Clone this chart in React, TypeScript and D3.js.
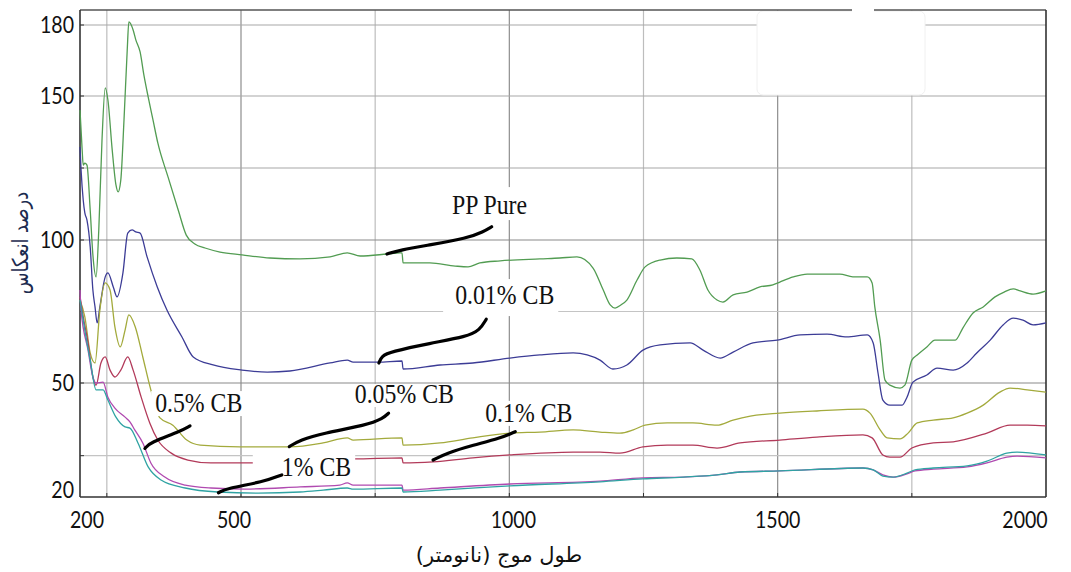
import React, { useEffect, useRef } from "react";
import * as d3 from "d3";

type Pt = [number, number];

// wavelength (nm), reflectance (%)
const ppPure: Pt[] = [
  [200,145.1],[204,131.3],[206,126.0],[209,126.7],[213,126.0],[219,110.4],[224,94.8],[230,87.1],[235,103.5],[241,134.7],
  [247,153.4],[252,148.6],[260,131.3],[267,119.1],[271,116.7],[276,120.8],[282,141.7],[288,169.4],[291,181.3],[299,177.9],
  [304,173.7],[312,168.6],[319,158.9],[327,149.7],[336,141.7],[345,133.7],[364,121.9],[383,110.4],[398,101.7],[414,98.6],
  [433,97.2],[461,95.8],[502,94.8],[554,93.7],[610,93.4],[666,94.1],[698,95.5],[722,94.4],[772,95.1],[796,95.5],
  [800,95.5],[802,92.0],[852,92.0],[899,90.9],[923,90.6],[945,92.0],[983,92.7],[1057,93.4],[1094,93.7],[1126,94.1],
  [1156,90.2],[1175,82.5],[1188,77.3],[1197,76.2],[1208,77.3],[1219,79.0],[1238,86.0],[1253,90.6],[1281,93.0],[1312,93.7],
  [1340,93.4],[1355,89.5],[1370,82.5],[1387,79.0],[1398,78.3],[1417,80.8],[1443,81.8],[1467,83.6],[1491,84.3],[1504,85.3],
  [1529,87.1],[1555,88.1],[1592,88.1],[1616,88.1],[1640,87.1],[1667,87.1],[1676,85.0],[1681,76.6],[1691,65.0],[1700,51.0],
  [1709,49.4],[1728,48.6],[1737,49.4],[1750,58.0],[1760,59.8],[1778,62.6],[1793,65.0],[1831,65.0],[1845,69.2],[1864,74.5],
  [1883,76.6],[1905,80.1],[1922,81.8],[1939,82.9],[1952,82.2],[1976,81.1],[2000,82.2]
];

const cb001: Pt[] = [
  [200,132.3],[202,124.3],[206,113.9],[209,109.4],[213,106.9],[219,97.6],[224,82.5],[228,76.6],[232,71.0],[237,76.6],
  [247,87.1],[252,88.5],[262,83.6],[269,80.1],[280,88.5],[289,102.4],[297,103.5],[304,102.8],[312,102.4],[325,94.1],
  [344,83.6],[362,75.5],[390,66.1],[411,59.1],[448,56.3],[502,54.5],[549,53.8],[591,54.2],[666,57.0],[698,58.0],
  [709,57.3],[755,57.3],[800,57.7],[802,54.9],[871,56.3],[932,57.0],[1001,58.7],[1057,59.8],[1119,60.5],[1145,59.8],
  [1169,58.0],[1193,54.9],[1219,56.3],[1249,61.5],[1281,63.3],[1337,64.0],[1361,61.5],[1393,58.7],[1417,60.8],[1454,64.0],
  [1499,65.0],[1542,66.8],[1592,67.1],[1629,66.1],[1667,66.8],[1678,64.0],[1687,53.5],[1696,45.3],[1709,43.9],[1732,43.9],
  [1741,46.1],[1752,50.3],[1778,52.8],[1797,55.2],[1827,54.5],[1853,57.0],[1871,60.5],[1896,65.0],[1920,70.3],[1939,72.7],
  [1957,72.0],[1976,70.3],[2000,71.0]
];

const cb005: Pt[] = [
  [200,79.0],[209,73.1],[219,60.5],[228,57.0],[237,75.5],[247,85.0],[256,82.5],[265,69.6],[275,62.6],[284,68.5],
  [291,73.8],[303,69.6],[317,59.1],[332,48.1],[349,40.4],[373,38.4],[399,34.3],[424,32.9],[498,32.4],[591,32.4],
  [653,33.5],[698,34.9],[709,34.3],[800,34.9],[802,32.9],[871,33.5],[932,34.9],[1001,36.2],[1057,36.5],[1119,37.1],
  [1169,36.5],[1206,36.2],[1231,37.1],[1253,38.4],[1294,39.0],[1342,39.0],[1387,38.4],[1417,39.8],[1449,40.9],[1504,41.7],
  [1573,42.3],[1659,42.8],[1672,41.7],[1691,37.1],[1704,34.9],[1728,34.6],[1743,36.2],[1760,39.0],[1790,39.8],[1827,40.4],
  [1853,41.7],[1883,43.9],[1914,47.5],[1933,48.6],[1965,48.1],[2000,47.5]
];

const cb01: Pt[] = [
  [200,80.1],[206,73.1],[215,64.0],[224,52.1],[230,49.4],[239,57.0],[247,59.1],[256,54.5],[265,52.1],[276,54.5],
  [289,59.1],[299,54.5],[314,46.1],[330,39.0],[345,34.3],[370,30.7],[401,28.8],[444,28.0],[517,28.0],[610,28.3],
  [698,29.6],[709,29.1],[800,29.4],[802,28.0],[858,28.3],[932,29.4],[1001,30.2],[1119,31.0],[1169,31.0],[1206,30.7],
  [1249,32.4],[1294,32.9],[1342,32.9],[1387,32.1],[1430,33.5],[1504,34.3],[1573,35.1],[1659,35.7],[1676,34.9],[1696,30.2],
  [1709,29.6],[1728,29.6],[1750,32.1],[1790,33.5],[1827,33.8],[1890,36.2],[1933,38.4],[1965,38.4],[2000,38.2]
];

const cb05: Pt[] = [
  [200,82.5],[202,75.5],[215,61.5],[224,52.1],[230,50.0],[243,50.3],[252,46.1],[265,43.1],[284,40.6],[293,39.3],
  [302,37.1],[317,33.5],[332,28.0],[358,24.1],[396,21.9],[444,21.1],[507,20.8],[610,21.4],[684,21.9],[698,22.5],
  [709,21.9],[800,21.9],[802,20.5],[871,21.1],[1001,22.2],[1169,23.0],[1249,23.9],[1324,24.1],[1387,24.7],[1430,25.5],
  [1504,25.8],[1659,26.6],[1678,26.1],[1696,24.7],[1715,24.1],[1741,25.0],[1756,25.8],[1790,26.3],[1853,26.9],[1890,28.0],
  [1927,29.6],[1946,29.9],[2000,29.4]
];

const cb1: Pt[] = [
  [200,79.0],[209,68.5],[219,58.0],[230,48.1],[243,48.1],[252,45.3],[267,40.6],[284,37.9],[293,37.6],[308,33.5],
  [327,26.9],[351,23.3],[396,21.1],[457,20.0],[532,19.7],[610,20.0],[653,20.5],[698,21.1],[709,20.8],[800,21.1],
  [802,20.0],[871,20.5],[1001,21.7],[1169,22.8],[1249,23.6],[1324,24.1],[1387,24.7],[1430,25.5],[1504,25.8],[1659,26.6],
  [1678,26.1],[1696,24.4],[1715,24.1],[1741,25.2],[1756,26.1],[1790,26.6],[1853,27.2],[1890,28.5],[1927,30.7],[1946,31.0],
  [2000,30.2]
];

const seriesData: Pt[][] = [ppPure, cb001, cb005, cb01, cb05, cb1];
const seriesColors = ["#529c52", "#3c3c96", "#a3aa3c", "#b23a5a", "#b04ab0", "#2fa3a3"];

const yTickValues = [180, 150, 100, 50, 20];
const yGridValues = [180, 150, 125, 100, 75, 50, 30];
const xTickValues = [200, 500, 1000, 1500, 2000];
const xGridValues = [250, 500, 750, 1000, 1250, 1500, 1750];

const labelTexts = ["PP Pure", "0.01% CB", "0.05% CB", "0.1% CB", "1% CB", "0.5% CB"];
const labelNm = [893, 899, 712, 955, 576, 340];
const labelVal = [109.0, 77.6, 44.5, 39.3, 24.4, 42.0];

const leaderPP: Pt[] = [[772,95.1],[796,96.5],[852,98.3],[921,100.6],[952,102.9],[967,104.6]];
const leader001: Pt[] = [[757,57.0],[762,59.4],[778,60.9],[852,63.9],[921,66.2],[945,68.5],[957,72.3]];
const leader005: Pt[] = [[590,32.5],[610,34.3],[653,36.2],[734,38.4],[765,40.3],[775,41.7]];
const leader01: Pt[] = [[858,28.8],[883,30.7],[933,32.9],[983,34.8],[1011,36.6]];
const leader1: Pt[] = [[458,19.8],[473,21.0],[542,22.8],[576,24.7]];
const leader05: Pt[] = [[321,32.0],[330,33.6],[386,36.6],[405,38.2]];
const leaders: Pt[][] = [leaderPP, leader001, leader005, leader01, leader1, leader05];

const yTitle = "درصد انعکاس";
const xTitle = "طول موج (نانومتر)";

export default function App() {
  const ref = useRef<SVGSVGElement>(null);

  useEffect(() => {
    document.body.style.margin = "0";
    const W = 1071, H = 572;
    const L = 80, R = 1046, T = 10, B = 497;
    const svg = d3.select(ref.current!);
    svg.selectAll("*").remove();

    const x = d3.scaleLinear().domain([200, 2000]).range([L, R]);
    const y = d3.scaleLinear().domain([20, 50, 100, 150, 180]).range([492, 383, 240, 96, 25]);

    svg.append("rect").attr("width", W).attr("height", H).attr("fill", "#fff");

    // grid
    const grid = svg.append("g");
    xGridValues.forEach((v) => {
      grid.append("line")
        .attr("x1", x(v)).attr("x2", x(v)).attr("y1", T).attr("y2", B)
        .attr("stroke", xTickValues.includes(v) ? "#8e8e8e" : "#bdbdbd").attr("stroke-width", 1.2);
    });
    yGridValues.forEach((v) => {
      grid.append("line")
        .attr("y1", y(v)).attr("y2", y(v)).attr("x1", L).attr("x2", R)
        .attr("stroke", v === 100 || v === 50 ? "#8a8a8a" : v === 75 || v === 30 ? "#c4c4c4" : "#a8a8a8")
        .attr("stroke-width", 1.2);
    });

    // erased legend box
    svg.append("rect").attr("x", 757).attr("y", 11).attr("width", 168).attr("height", 84)
      .attr("rx", 6).attr("fill", "#fff").attr("stroke", "#f0f0f0");

    // frame
    svg.append("line").attr("x1", L).attr("x2", R).attr("y1", T).attr("y2", T).attr("stroke", "#555").attr("stroke-width", 1.4);
    svg.append("line").attr("x1", R).attr("x2", R).attr("y1", T).attr("y2", B).attr("stroke", "#333").attr("stroke-width", 1.6);
    svg.append("line").attr("x1", L).attr("x2", L).attr("y1", T).attr("y2", B).attr("stroke", "#333").attr("stroke-width", 1.6);
    svg.append("line").attr("x1", L).attr("x2", R).attr("y1", B).attr("y2", B).attr("stroke", "#333").attr("stroke-width", 1.6);
    svg.append("rect").attr("x", 852).attr("y", 7).attr("width", 22).attr("height", 6).attr("fill", "#fff");

    // ticks
    yGridValues.forEach((v) => {
      svg.append("line").attr("x1", L).attr("x2", L + 4).attr("y1", y(v)).attr("y2", y(v)).attr("stroke", "#333");
    });
    xGridValues.forEach((v) => {
      svg.append("line").attr("x1", x(v)).attr("x2", x(v)).attr("y1", B - 4).attr("y2", B).attr("stroke", "#333");
    });

    // tick labels
    const tickFont = "Lato, 'Open Sans', sans-serif";
    yTickValues.forEach((v) => {
      const yy = v === 20 ? y(v) - 2 : y(v);
      svg.append("text").attr("transform", `translate(74,${yy}) scale(0.85,1)`)
        .attr("text-anchor", "end").attr("dy", "0.36em")
        .attr("font-family", tickFont).attr("font-size", 23).attr("fill", "#111").text(String(v));
    });
    const xLabelShift: Record<number, number> = { 200: 7, 500: -7, 1000: 4, 1500: 0, 2000: -21 };
    xTickValues.forEach((v) => {
      svg.append("text").attr("transform", `translate(${x(v) + (xLabelShift[v] || 0)},528) scale(0.85,1)`)
        .attr("text-anchor", "middle")
        .attr("font-family", tickFont).attr("font-size", 23).attr("fill", "#111").text(String(v));
    });

    // axis titles
    svg.append("text").attr("transform", "translate(20,243) rotate(-90) scale(1.05,1.3)")
      .attr("text-anchor", "middle").attr("dy", "0.35em")
      .attr("font-family", "'DejaVu Sans', sans-serif").attr("font-size", 17)
      .attr("fill", "#1c2b4f").text(yTitle);
    svg.append("text").attr("transform", "translate(499,562)")
      .attr("text-anchor", "middle")
      .attr("font-family", "'DejaVu Sans', sans-serif").attr("font-size", 21)
      .attr("fill", "#111").text(xTitle);

    // curves
    const line = d3.line<Pt>().x((d) => x(d[0])).y((d) => y(d[1])).curve(d3.curveMonotoneX);
    seriesData.forEach((s, i) => {
      svg.append("path").attr("d", line(s)!).attr("fill", "none")
        .attr("stroke", seriesColors[i]).attr("stroke-width", 1.3).attr("stroke-linejoin", "round");
    });

    // annotations
    const boxG = svg.append("g");
    const leaderG = svg.append("g");
    const textG = svg.append("g");
    const pads: number[][] = [
      [12, 8, 12, 6],
      [12, 6, 4, 12],
      [3, 0, 3, 4],
      [3, 2, 3, 4],
      [29, 4, 4, 4],
      [4, 2, 4, 4],
    ];
    const leaderLine = d3.line<Pt>().x((d) => x(d[0])).y((d) => y(d[1])).curve(d3.curveBasis);
    labelTexts.forEach((t, i) => {
      const tx = x(labelNm[i]);
      const ty = y(labelVal[i]);
      const te = textG.append("text").attr("transform", `translate(${tx},${ty}) scale(0.85,1)`)
        .attr("font-family", "'Liberation Serif', 'Times New Roman', serif").attr("font-size", 28)
        .attr("fill", "#111").text(t);
      const w = (te.node() as SVGTextElement).getComputedTextLength() * 0.85;
      const [pl, pt, pr, pb] = pads[i];
      boxG.append("rect").attr("x", tx - pl).attr("y", ty - 19 - pt)
        .attr("width", w + pl + pr).attr("height", 19 + pt + pb).attr("fill", "#fff");
      leaderG.append("path").attr("d", leaderLine(leaders[i])!).attr("fill", "none")
        .attr("stroke", "#000").attr("stroke-width", 3.2).attr("stroke-linecap", "round");
    });
  }, []);

  return <svg ref={ref} width={1071} height={572} style={{ position: "absolute", left: 0, top: 0, display: "block" }} />;
}
